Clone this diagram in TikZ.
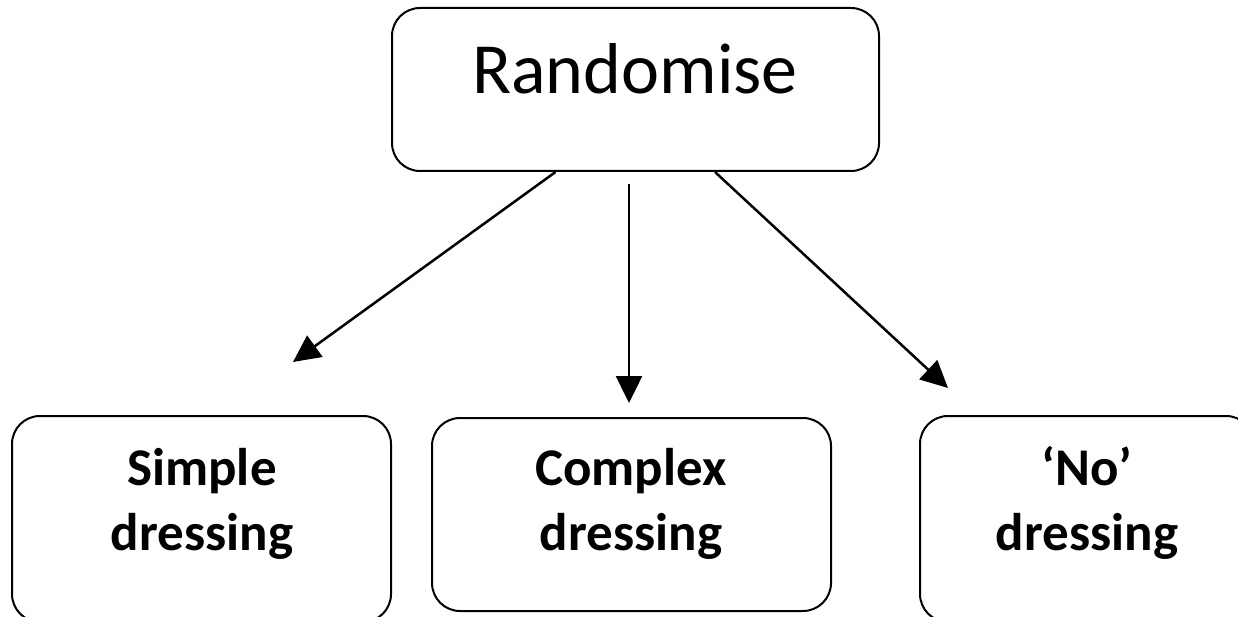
\documentclass[tikz,border=0pt]{standalone}
\usepackage{fontspec}
\setmainfont{Carlito}
\usetikzlibrary{arrows.meta}
\tikzset{
  box/.style={draw=black, line width=2pt, rounded corners=28pt, inner sep=0pt, fill=white},
  toplabel/.style={font=\fontsize{72}{86}\selectfont, inner sep=0pt, anchor=base},
  botlabel/.style={font=\fontsize{53}{65}\selectfont\bfseries, inner sep=0pt, align=center, anchor=base},
  arr/.style={line width=2.5pt, -{Triangle[length=27pt,width=26pt]}}
}
\begin{document}
\begin{tikzpicture}[x=1pt,y=-1pt]
\useasboundingbox (0,0) rectangle (1238,617);
\fill[white] (0,0) rectangle (1238,617);
\clip (0,0) rectangle (1238,617);
% boxes
\node[box, minimum width=487pt, minimum height=163pt] (rand) at (635.5,89.5) {};
\node[box, minimum width=379pt, minimum height=206pt] (simple) at (201.5,519) {};
\node[box, minimum width=399pt, minimum height=193pt] (complex) at (631.5,514.5) {};
\node[box, minimum width=334pt, minimum height=206pt] (nodress) at (1087,519) {};
% labels
\node[toplabel] (randt) at (635,94) {Randomise};
\node[botlabel] (simplet) at (202,550) {Simple\\dressing};
\node[botlabel] (complext) at (631,550) {Complex\\dressing};
\node[botlabel] (nodresst) at (1087,550) {‘No’\\dressing};
% arrow ends
\coordinate (tL) at (293,362);
\coordinate (tM) at (629,403);
\coordinate (tR) at (948,388);
\draw[arr] ([xshift=-80pt]rand.south) -- (tL);
\draw[arr] ([xshift=-6.5pt,yshift=-12pt]rand.south) -- (tM);
\draw[arr] ([xshift=79.5pt]rand.south) -- (tR);
\end{tikzpicture}
\end{document}
